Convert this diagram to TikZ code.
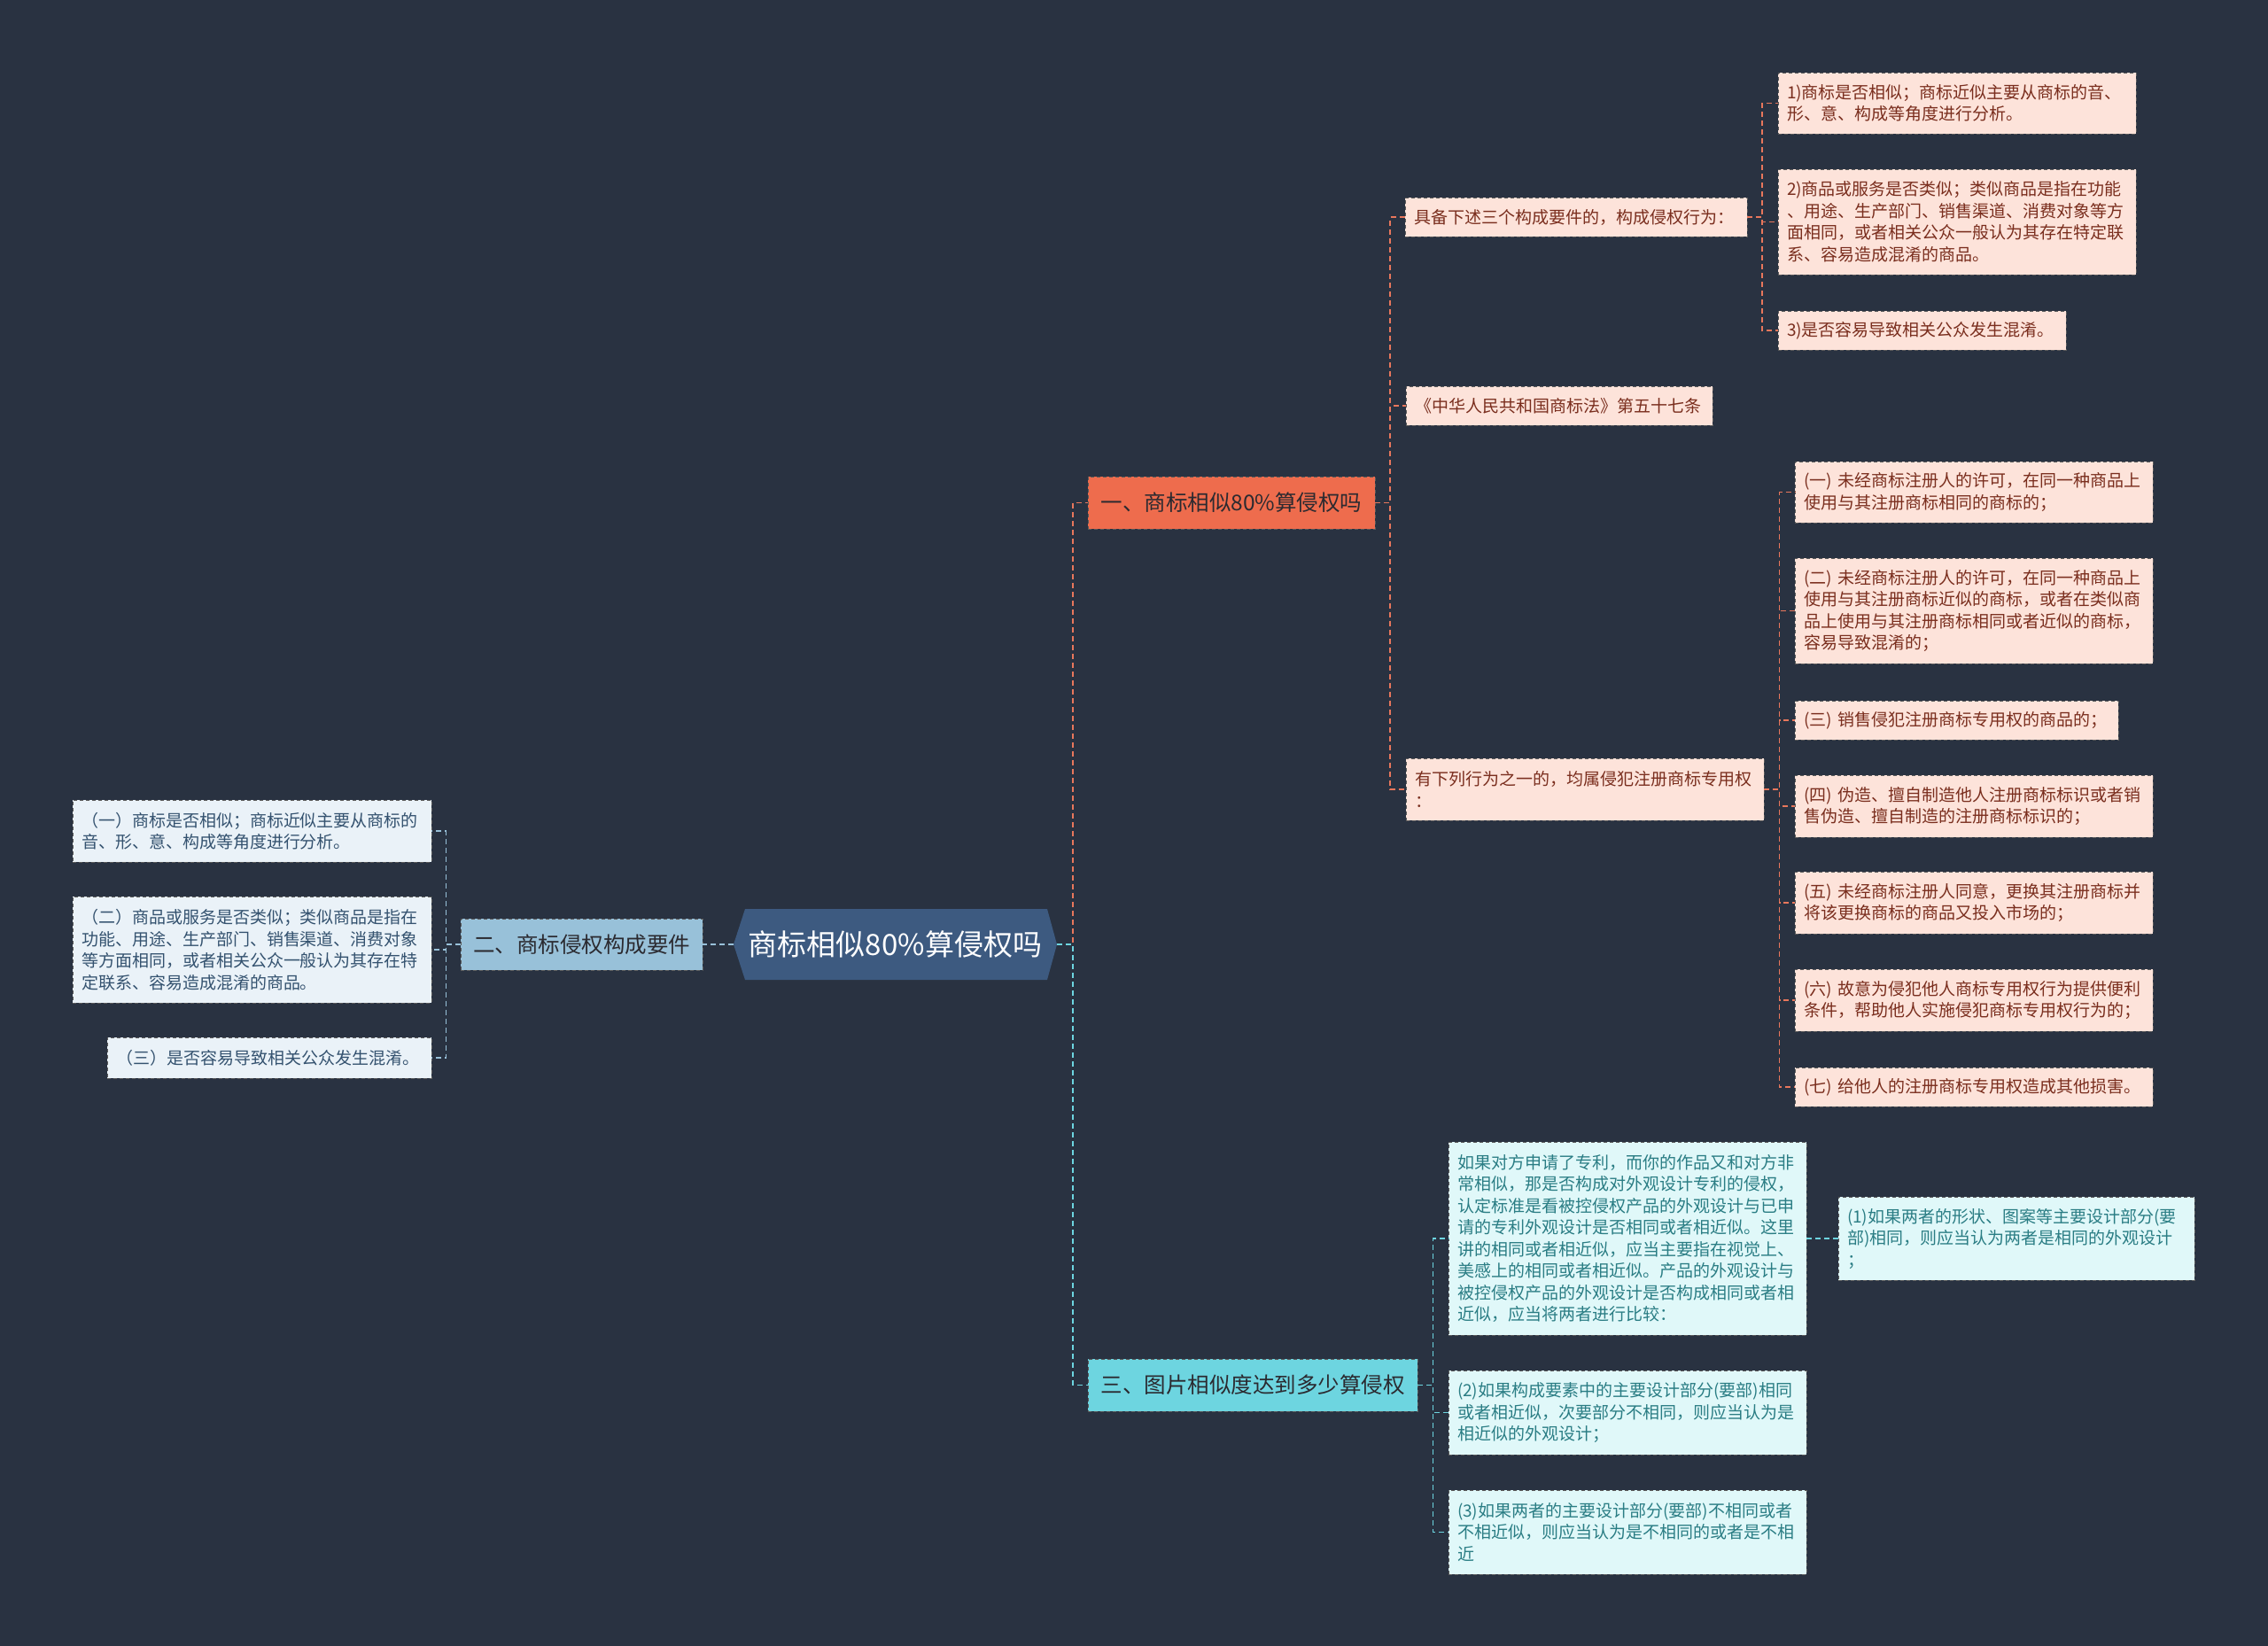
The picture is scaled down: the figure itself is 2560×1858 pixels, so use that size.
\documentclass[tikz,border=0pt]{standalone}
\usepackage{fontspec}
\newfontfamily\cjk{Noto Sans CJK SC}
\definecolor{bgc}{HTML}{293241}
\definecolor{rootc}{HTML}{3D5A80}
\definecolor{coral}{HTML}{EE6C4D}
\definecolor{coralln}{HTML}{E8775C}
\definecolor{pinkf}{HTML}{FDE3DA}
\definecolor{pinkt}{HTML}{7A2E1E}
\definecolor{lblue}{HTML}{98C1D9}
\definecolor{lbluef}{HTML}{EAF2F8}
\definecolor{lbluet}{HTML}{34526F}
\definecolor{cyanc}{HTML}{6DD5E0}
\definecolor{cyanf}{HTML}{E0F8F9}
\definecolor{cyant}{HTML}{2A7D84}
\definecolor{darkt}{HTML}{2B2A30}
\definecolor{bord}{HTML}{5A5A5A}
\newcommand\mmbox[7]{%
  \pgfmathsetmacro\mmbw{#5-#3}%
  \pgfmathsetmacro\mmbh{#6-#4}%
  \pgfmathsetmacro\mmtw{#5-#3-20}%
  \node[#2, minimum width=\mmbw pt, minimum height=\mmbh pt, text width=\mmtw pt, anchor=north west] (#1) at (#3,#4) {#7};}
\tikzset{
  boxbase/.style={rectangle, draw=bord, dash pattern=on 4pt off 3pt, line width=1pt, inner xsep=10pt, inner ysep=2pt, outer sep=0pt, align=left},
  leafp/.style={boxbase, fill=pinkf, text=pinkt, font=\cjk\fontsize{19}{24.5}\selectfont},
  leafb/.style={boxbase, fill=lbluef, text=lbluet, font=\cjk\fontsize{19}{24.5}\selectfont},
  leafc/.style={boxbase, fill=cyanf, text=cyant, font=\cjk\fontsize{19}{24.5}\selectfont},
  brbase/.style={rectangle, draw=bord, dash pattern=on 4pt off 3pt, line width=1pt, inner sep=0pt, outer sep=0pt, align=center, font=\cjk\fontsize{24.5}{30}\selectfont},
  br1/.style={brbase, fill=coral, text=darkt},
  br2/.style={brbase, fill=lblue, text=darkt},
  br3/.style={brbase, fill=cyanc, text=darkt},
  conc/.style={draw=coralln, line width=1.5pt, dash pattern=on 6pt off 4pt},
  conb/.style={draw=lblue, line width=1.5pt, dash pattern=on 6pt off 4pt},
  conq/.style={draw=cyanc, line width=1.5pt, dash pattern=on 6pt off 4pt},
}
\begin{document}
\begin{tikzpicture}[x=1pt,y=-1pt]
\fill[bgc] (0,0) rectangle (2560,1858);
\useasboundingbox (0,0) rectangle (2560,1858);
% root hexagon
\fill[rootc] (828,1066) -- (841,1026) -- (1182,1026) -- (1193,1066) -- (1182,1106) -- (841,1106) -- cycle;
\node[minimum width=365pt, minimum height=80pt, inner sep=0pt, outer sep=0pt, text=white, font=\cjk\fontsize{33}{40}\selectfont] (root) at (1010.5,1066) {商标相似80\%算侵权吗};
% branches
\node[br1, minimum width=324pt, minimum height=59pt] (b1) at (1390,567.5) {一、商标相似80\%算侵权吗};
\node[br2, minimum width=273pt, minimum height=58pt] (b2) at (656.5,1066) {二、商标侵权构成要件};
\node[br3, minimum width=372pt, minimum height=59pt] (b3) at (1414,1563.5) {三、图片相似度达到多少算侵权};
% branch 1 leaves
\mmbox{c11}{leafp}{1586}{223}{1972}{267}{具备下述三个构成要件的，构成侵权行为：}
\mmbox{c111}{leafp}{2007}{82}{2411}{151}{1)商标是否相似；商标近似主要从商标的音、\\形、意、构成等角度进行分析。}
\mmbox{c112}{leafp}{2007}{191}{2411}{310}{2)商品或服务是否类似；类似商品是指在功能\\、用途、生产部门、销售渠道、消费对象等方\\面相同，或者相关公众一般认为其存在特定联\\系、容易造成混淆的商品。}
\mmbox{c113}{leafp}{2007}{351}{2332}{395}{3)是否容易导致相关公众发生混淆。}
\mmbox{c12}{leafp}{1587}{436}{1933}{480}{《中华人民共和国商标法》第五十七条}
\mmbox{c13}{leafp}{1587}{856}{1991}{926}{有下列行为之一的，均属侵犯注册商标专用权\\：}
\mmbox{c131}{leafp}{2026}{521}{2430}{590}{(一) 未经商标注册人的许可，在同一种商品上\\使用与其注册商标相同的商标的；}
\mmbox{c132}{leafp}{2026}{630}{2430}{749}{(二) 未经商标注册人的许可，在同一种商品上\\使用与其注册商标近似的商标，或者在类似商\\品上使用与其注册商标相同或者近似的商标，\\容易导致混淆的；}
\mmbox{c133}{leafp}{2026}{791}{2391}{835}{(三) 销售侵犯注册商标专用权的商品的；}
\mmbox{c134}{leafp}{2026}{875}{2430}{945}{(四) 伪造、擅自制造他人注册商标标识或者销\\售伪造、擅自制造的注册商标标识的；}
\mmbox{c135}{leafp}{2026}{984}{2430}{1054}{(五) 未经商标注册人同意，更换其注册商标并\\将该更换商标的商品又投入市场的；}
\mmbox{c136}{leafp}{2026}{1094}{2430}{1164}{(六) 故意为侵犯他人商标专用权行为提供便利\\条件，帮助他人实施侵犯商标专用权行为的；}
\mmbox{c137}{leafp}{2026}{1205}{2430}{1249}{(七) 给他人的注册商标专用权造成其他损害。}
% branch 2 leaves
\mmbox{l1}{leafb}{82}{903}{487}{973}{（一）商标是否相似；商标近似主要从商标的\\音、形、意、构成等角度进行分析。}
\mmbox{l2}{leafb}{82}{1012}{487}{1132}{（二）商品或服务是否类似；类似商品是指在\\功能、用途、生产部门、销售渠道、消费对象\\等方面相同，或者相关公众一般认为其存在特\\定联系、容易造成混淆的商品。}
\mmbox{l3}{leafb}{121}{1171}{487}{1217}{（三）是否容易导致相关公众发生混淆。}
% branch 3 leaves
\mmbox{d1}{leafc}{1635}{1289}{2039}{1507}{如果对方申请了专利，而你的作品又和对方非\\常相似，那是否构成对外观设计专利的侵权，\\认定标准是看被控侵权产品的外观设计与已申\\请的专利外观设计是否相同或者相近似。这里\\讲的相同或者相近似，应当主要指在视觉上、\\美感上的相同或者相近似。产品的外观设计与\\被控侵权产品的外观设计是否构成相同或者相\\近似，应当将两者进行比较：}
\mmbox{d11}{leafc}{2075}{1351}{2477}{1445}{(1)如果两者的形状、图案等主要设计部分(要\\部)相同，则应当认为两者是相同的外观设计\\；}
\mmbox{d2}{leafc}{1635}{1547}{2039}{1642}{(2)如果构成要素中的主要设计部分(要部)相同\\或者相近似，次要部分不相同，则应当认为是\\相近似的外观设计；}
\mmbox{d3}{leafc}{1635}{1682}{2039}{1777}{(3)如果两者的主要设计部分(要部)不相同或者\\不相近似，则应当认为是不相同的或者是不相\\近}
% connectors
\coordinate (t0) at (1211,1066);
\draw[conc] (root.east) -- (t0) |- (b1.west);
\draw[conq] (root.east) -- (t0) |- (b3.west);
\draw[conb] (root.west) -- (b2.east);
\foreach \c in {c11,c12,c13} \draw[conc] (b1.east) -- ++(17,0) |- (\c.west);
\foreach \c in {c111,c112,c113} \draw[conc] (c11.east) -- ++(17,0) |- (\c.west);
\foreach \c in {c131,c132,c133,c134,c135,c136,c137} \draw[conc] (c13.east) -- ++(17.5,0) |- (\c.west);
\foreach \c in {l1,l2,l3} \draw[conb] (b2.west) -- ++(-16.5,0) |- (\c.east);
\foreach \c in {d1,d2,d3} \draw[conq] (b3.east) -- ++(17.5,0) |- (\c.west);
\draw[conq] (d1.east) -- (d11.west);
\end{tikzpicture}
\end{document}
